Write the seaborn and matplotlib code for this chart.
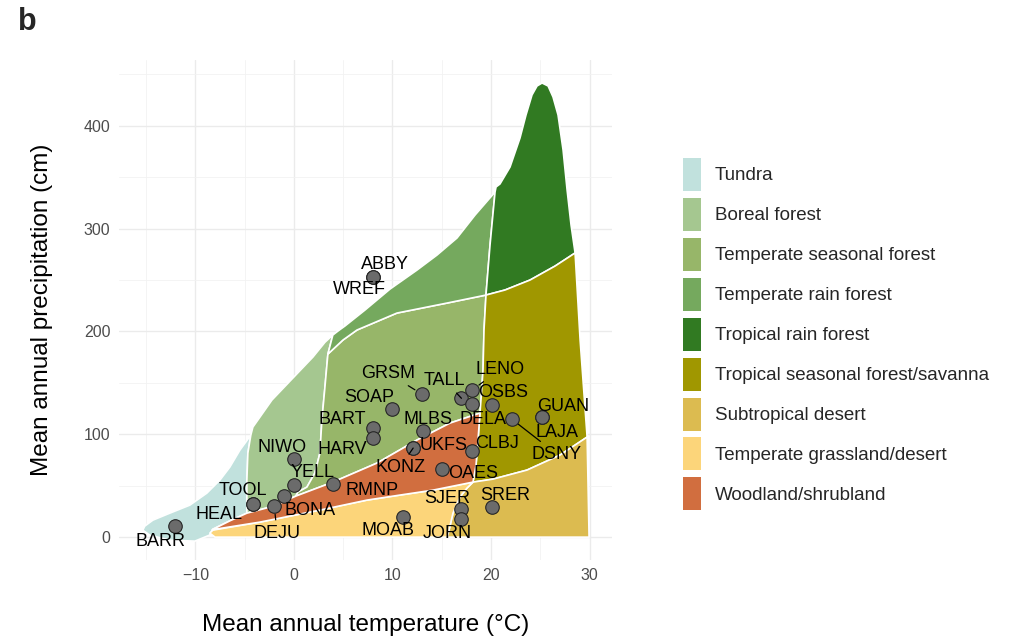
import pandas as pd
import seaborn as sns
import matplotlib.pyplot as plt
from matplotlib.patches import Patch
from matplotlib.ticker import MultipleLocator

# biome polygons (temperature degC, precipitation cm)
tundra_t = [-15.33, -14.62, -12.59, -10.05, -8.55, -8.22, -6.5, -4.77, -4.77, -4.67,
            -4.37, -5.48, -6.50, -7.51, -8.83, -10.56, -12.59, -14.31, -15.13]
tundra_p = [6.8, 1.9, -2.9, -3.9, 2.0, 7.8, 15.8, 23.3, 55.4, 81.7,
            99.2, 84.6, 68.1, 55.4, 42.8, 31.1, 23.3, 16.5, 10.7]

boreal_t = [-4.77, -4.77, -4.67, -4.37, -4.16, -2.23, -0.1, 1.93, 3.15, 3.95,
            3.45, 3.15, 2.84, 2.64, 2.13, 1.32, 0.41, 0.2, -2.03]
boreal_p = [23.3, 55.4, 81.7, 99.2, 107.0, 133.3, 154.7, 175.1, 189.5, 196.5,
            178.0, 145.9, 113.8, 81.7, 62.3, 48.6, 43.8, 39.9, 30.2]

temp_seasonal_t = [3.45, 3.15, 2.84, 2.64, 2.13, 1.32, 0.41, 0.2, 3.96, 8.43, 12.49, 15.84,
                   18.88, 18.98, 19.19, 19.29, 19.49, 15.53, 10.46, 6.40, 4.97]
temp_seasonal_p = [178.0, 145.9, 113.8, 81.7, 62.3, 48.6, 43.8, 39.9, 53.5, 72.0, 94.4, 110.9,
                   120.6, 133.3, 162.5, 201.4, 235.4, 227.6, 217.9, 201.4, 191.6]

temp_rain_t = [3.45, 4.97, 6.40, 10.46, 15.53, 19.49, 19.90, 20.41, 18.38, 16.55,
               14.52, 12.49, 9.75, 7.21, 5.18, 4.47, 3.95]
temp_rain_p = [178.0, 191.6, 201.4, 217.9, 227.6, 235.4, 284.0, 335.6, 313.2, 290.9,
               274.3, 259.7, 241.2, 220.8, 205.3, 200.4, 196.5]

trop_rain_t = [19.49, 19.90, 20.41, 20.51, 20.91, 21.93, 22.94, 23.55, 24.16, 24.67,
               25.18, 25.79, 26.29, 26.80, 27.31, 27.72, 28.12, 28.53, 26.50, 23.96, 21.42]
trop_rain_p = [235.4, 284.0, 335.6, 340.5, 343.4, 359.9, 388.1, 410.5, 430.0, 438.7,
               441.6, 438.7, 428.0, 410.5, 376.5, 337.5, 303.5, 276.3, 263.6, 250.0, 240.3]

trop_seasonal_t = [19.49, 21.42, 23.96, 26.50, 28.53, 29.04, 29.75, 27.0, 23.65, 20.20,
                   18.17, 18.48, 18.68, 18.88, 18.98, 19.19, 19.29]
trop_seasonal_p = [235.4, 240.3, 250.0, 263.6, 276.3, 191.6, 97.3, 79.8, 65.2, 56.4,
                   53.5, 70.0, 94.4, 120.6, 133.3, 162.5, 201.4]

subtrop_desert_t = [18.17, 20.20, 23.65, 27.0, 29.75, 29.95, 15.53, 15.74, 16.14, 16.85, 17.56]
subtrop_desert_p = [53.5, 56.4, 65.2, 79.8, 97.3, 0.0, 0.0, 6.8, 23.3, 38.9, 47.7]

grassland_t = [-8.53, -8.0, 15.53, 15.74, 16.14, 16.85, 17.56, 18.17, 14.11, 10.76,
               7.41, 2.64, -3.45, -8.22]
grassland_p = [3.9, 0.0, 0.0, 6.8, 23.3, 38.9, 47.7, 53.5, 45.7, 40.9,
               36.0, 26.3, 14.6, 6.8]

woodland_t = [-8.3, -6.5, -4.77, -2.03, 0.2, 3.96, 8.43, 12.49, 15.84, 18.88, 18.68,
              18.48, 18.17, 14.11, 10.76, 7.41, 2.64, -3.45]
woodland_p = [7.2, 15.8, 23.3, 30.2, 39.9, 53.5, 72.0, 94.4, 110.9, 120.6, 94.4,
              70.0, 53.5, 45.7, 40.9, 36.0, 26.3, 14.6]

biome_names = ['Tundra', 'Boreal forest', 'Temperate seasonal forest',
               'Temperate rain forest', 'Tropical rain forest',
               'Tropical seasonal forest/savanna', 'Subtropical desert',
               'Temperate grassland/desert', 'Woodland/shrubland']
biome_colors = ['#C1E1DD', '#A5C790', '#97B669', '#75A95E', '#317A22',
                '#A09700', '#DCBB50', '#FCD57A', '#D16E3F']

# NEON sites
site_names = ['BARR', 'TOOL', 'HEAL', 'DEJU', 'BONA', 'YELL', 'NIWO', 'RMNP',
              'BART', 'HARV', 'SOAP', 'GRSM', 'TALL', 'LENO', 'OSBS', 'DELA',
              'MLBS', 'KONZ', 'UKFS', 'CLBJ', 'OAES', 'SJER', 'JORN', 'MOAB',
              'SRER', 'DSNY', 'LAJA', 'GUAN', 'ABBY', 'WREF']
site_temp = [-12.1, -4.1, -4.1, -2.0, -1.0, 0.0, 0.0, 4.0,
             8.0, 8.0, 10.0, 13.0, 17.0, 18.1, 20.1, 18.1,
             13.1, 12.1, 12.1, 18.1, 15.0, 17.0, 17.0, 11.1,
             20.1, 22.1, 25.2, 25.2, 8.0, 8.0]
site_precip = [10.7, 32.1, 32.1, 30.2, 39.9, 50.6, 75.9, 51.6,
               106.0, 96.3, 124.5, 139.0, 135.0, 143.0, 128.4, 129.0,
               103.0, 86.6, 86.6, 83.7, 66.0, 27.0, 17.5, 19.5,
               29.0, 114.8, 116.7, 116.7, 253.0, 253.0]

# label offsets in pixels (repel-style placement)
label_offsets = {
    'BARR': (-14, -15), 'TOOL': (-11, 14), 'HEAL': (-34, -10), 'DEJU': (3, -27),
    'BONA': (26, -14), 'YELL': (19, 13), 'NIWO': (-12, 12), 'RMNP': (39, -6),
    'BART': (-30, 9), 'HARV': (-30, -11), 'SOAP': (-23, 12), 'GRSM': (-34, 21),
    'TALL': (-17, 18), 'LENO': (28, 21), 'OSBS': (11, 13), 'DELA': (11, -15),
    'MLBS': (5, 12), 'KONZ': (-13, -19), 'UKFS': (30, 3), 'CLBJ': (25, 8),
    'OAES': (31, -4), 'SJER': (-14, 11), 'JORN': (-14, -14), 'MOAB': (-15, -13),
    'SRER': (13, 12), 'DSNY': (45, -35), 'LAJA': (15, -15), 'GUAN': (21, 11),
    'ABBY': (12, 12), 'WREF': (-13, -13),
}
with_segment = ['GRSM', 'TALL', 'LENO', 'KONZ', 'DEJU', 'DSNY']

sns.set_theme(style='whitegrid')
plt.rcParams['font.family'] = ['Liberation Sans', 'DejaVu Sans']

fig = plt.figure(figsize=(10.15, 6.38), dpi=100)
ax = fig.add_axes([0.117, 0.122, 0.486, 0.784])

polys = [(tundra_t, tundra_p), (boreal_t, boreal_p),
         (temp_seasonal_t, temp_seasonal_p), (temp_rain_t, temp_rain_p),
         (trop_rain_t, trop_rain_p), (trop_seasonal_t, trop_seasonal_p),
         (subtrop_desert_t, subtrop_desert_p), (grassland_t, grassland_p),
         (woodland_t, woodland_p)]
for (t, p), col in zip(polys, biome_colors):
    ax.fill(t, p, facecolor=col, edgecolor='white', linewidth=1.2,
            joinstyle='round', zorder=2)

sites = pd.DataFrame({'site': site_names, 'temp': site_temp, 'precip': site_precip})
sns.scatterplot(data=sites, x='temp', y='precip', ax=ax, s=95,
                color='#6b6b6b', edgecolor='#262626', linewidth=0.8, zorder=4)

for name, t, p in zip(site_names, site_temp, site_precip):
    dx, dy = label_offsets[name]
    arrow = None
    if name in with_segment:
        arrow = dict(arrowstyle='-', color='black', lw=0.9, shrinkA=1, shrinkB=6)
    ax.annotate(name, xy=(t, p), xytext=(dx, dy), textcoords='offset pixels',
                ha='center', va='center', fontsize=13, color='black',
                arrowprops=arrow, zorder=5)

ax.set_xlim(-17.77, 32.28)
ax.set_ylim(-22.4, 464)
ax.xaxis.set_major_locator(MultipleLocator(10))
ax.xaxis.set_minor_locator(MultipleLocator(5))
ax.yaxis.set_major_locator(MultipleLocator(100))
ax.yaxis.set_minor_locator(MultipleLocator(50))
ax.grid(which='major', color='#ebebeb', linewidth=1.0)
ax.grid(which='minor', color='#f2f2f2', linewidth=0.6)
ax.set_axisbelow(True)
ax.set_facecolor('white')
for s in ax.spines.values():
    s.set_visible(False)
ax.tick_params(axis='both', which='both', length=0, labelsize=11.5, colors='#4d4d4d')
ax.tick_params(axis='x', pad=6)
ax.tick_params(axis='y', pad=6)

ax.set_xlabel('Mean annual temperature (\u00b0C)', fontsize=17.5, color='black', labelpad=22)
ax.set_ylabel('Mean annual precipitation (cm)', fontsize=17.5, color='black', labelpad=22)

handles = [Patch(facecolor=c, edgecolor='none') for c in biome_colors]
fig.legend(handles, biome_names, loc='upper left', bbox_to_anchor=(683 / 1015, 1 - 158 / 638),
           frameon=False, fontsize=13.5, handlelength=0.96, handleheight=2.33,
           labelspacing=0.37, handletextpad=0.75, borderpad=0, borderaxespad=0)

fig.text(18 / 1015, 1 - 22 / 638, 'b', fontsize=22, fontweight='bold', va='center', ha='left')

fig.savefig('out.png', dpi=100)
